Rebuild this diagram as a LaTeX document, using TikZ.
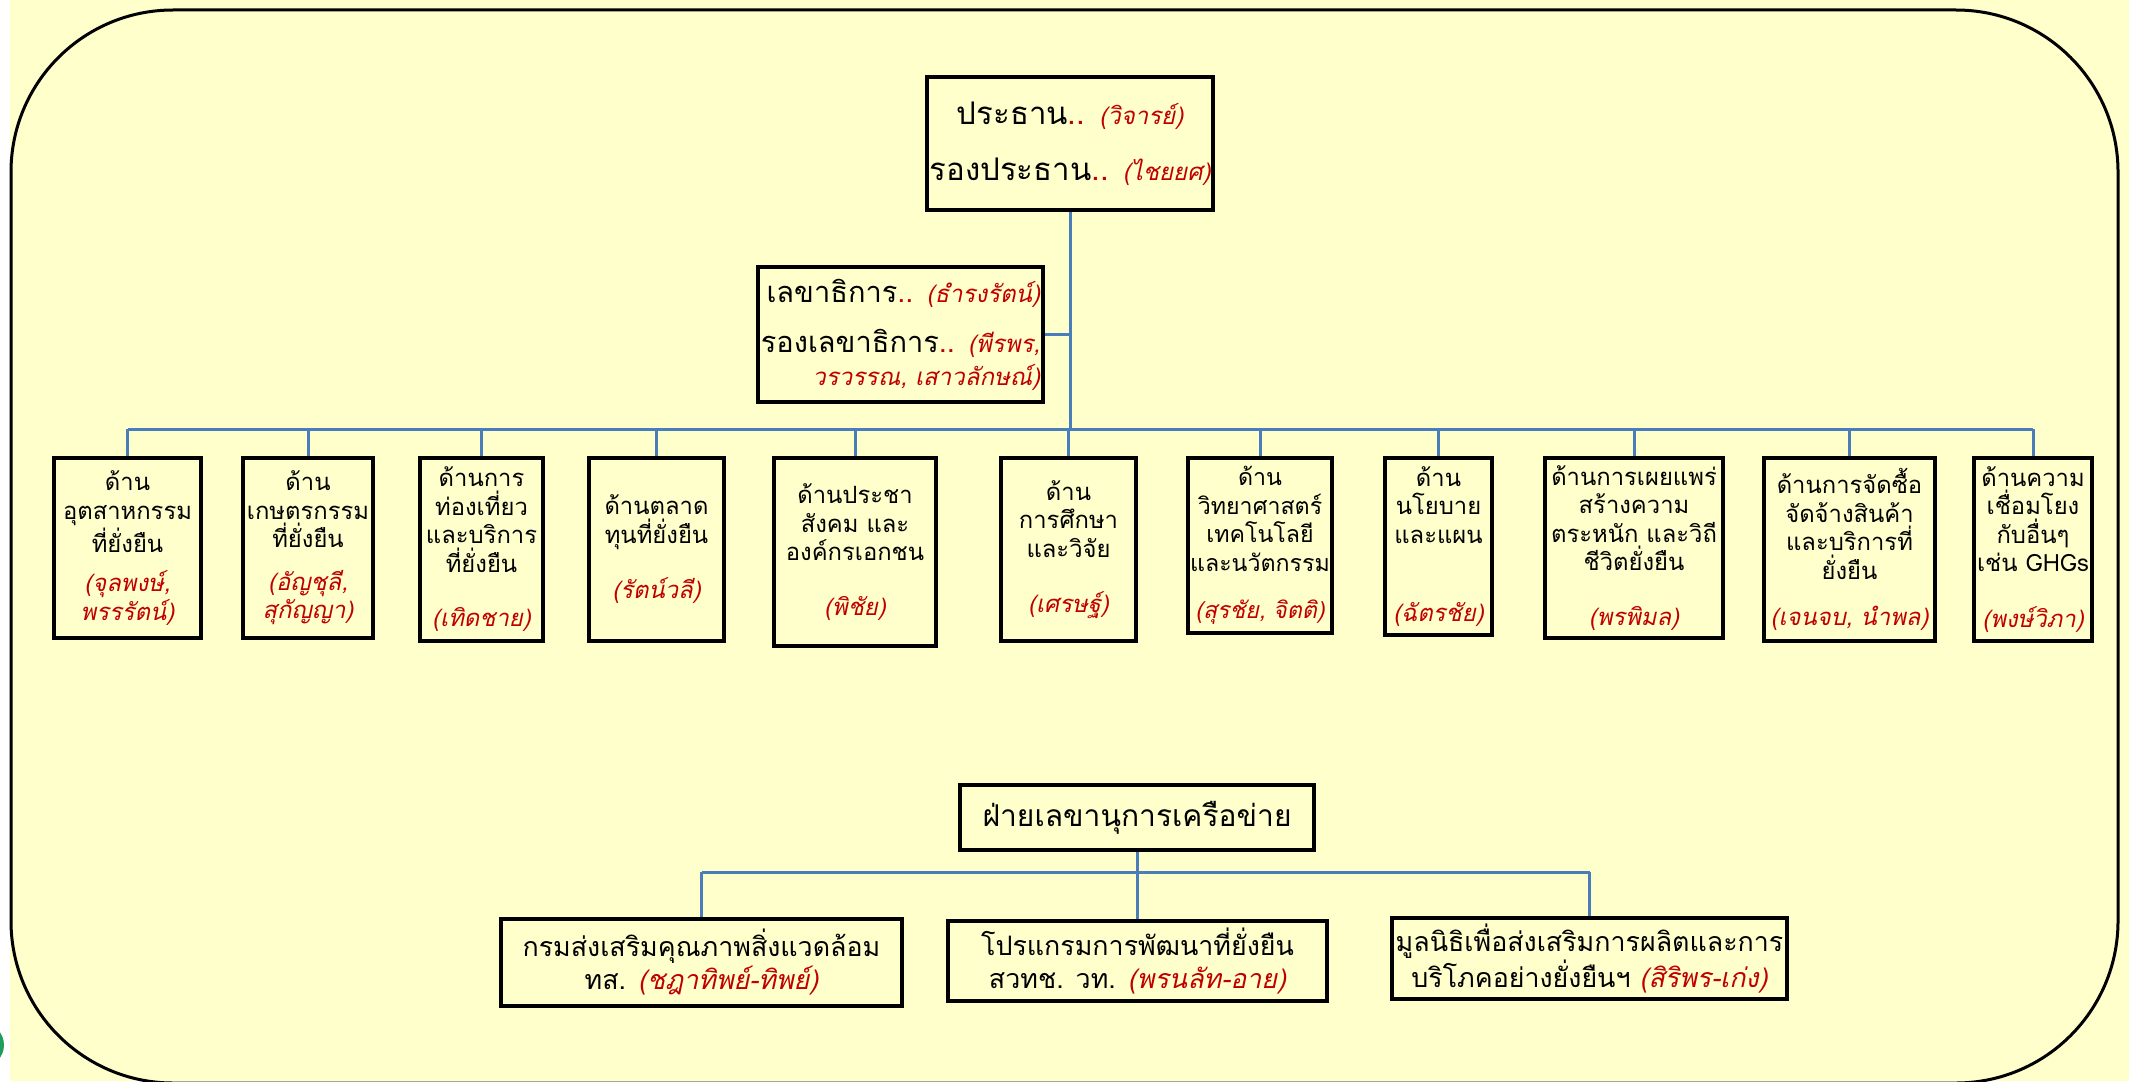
\documentclass[tikz,border=0pt]{standalone}
\usepackage{fontspec}
\setmainfont[Script=Thai]{Loma}
\definecolor{bgy}{HTML}{FFFFCC}
\definecolor{lnb}{HTML}{4A7EBB}
\definecolor{nred}{HTML}{C00000}
\definecolor{gblob}{HTML}{1B9E5E}
\newcommand\redit[1]{{\color{nred}\itshape #1}}
\begin{document}
\begin{tikzpicture}[x=0.5pt,y=-0.5pt,
  box/.style={draw=black, line width=2pt, fill=bgy, align=center, inner sep=1pt},
  rb/.style 2 args={box, minimum width=#1, minimum height=#2},
  conn/.style={draw=lnb, line width=1.5pt},
  rowtxt/.style={font=\fontsize{11.9}{14.25}\selectfont},
  bottxt/.style={font=\fontsize{13.4}{16.5}\selectfont}]
\useasboundingbox (0,0) rectangle (2129,1081);
\fill[white] (0,0) rectangle (2129,1081);
\fill[bgy] (10,0) rectangle (2129,1081);
\fill[gblob] (-18,1045) circle[radius=22];
\draw[line width=1.5pt, rounded corners=81pt] (11,10) rectangle (2118,1083);

% top
\node[rb={143pt}{66.5pt}, font=\fontsize{15.6}{28}\selectfont] (top) at (1070,143.5)
  {ประธาน{\color{nred}..} {\fontsize{12}{28}\selectfont\redit{(วิจารย์)}}\\
   รองประธาน{\color{nred}..} {\fontsize{12}{28}\selectfont\redit{(ไชยยศ)}}};
\node[rb={142.5pt}{67.5pt}, align=right, font=\fontsize{14.5}{25}\selectfont] (sec) at (900.5,334.5)
  {เลขาธิการ{\color{nred}..} {\fontsize{12}{25}\selectfont\redit{(ธำรงรัตน์)}}\\
   รองเลขาธิการ{\color{nred}..} {\fontsize{12}{25}\selectfont\redit{(พีรพร,}}\\[-8.5pt]
   {\fontsize{12}{25}\selectfont\redit{วรวรรณ, เสาวลักษณ์)}}};

% row
\node[rb={73.5pt}{90pt}, rowtxt] (r1) at (127.5,548)
  {ด้าน\\อุตสาหกรรม\\ที่ยั่งยืน\\[5.5pt]\redit{(จุลพงษ์,}\\\redit{พรรรัตน์)}};
\node[rb={65pt}{90pt}, rowtxt] (r2) at (308,548)
  {ด้าน\\เกษตรกรรม\\ที่ยั่งยืน\\[7pt]\redit{(อัญชุลี,}\\\redit{สุกัญญา)}};
\node[rb={61.5pt}{91.5pt}, rowtxt] (r3) at (481.5,549.5)
  {ด้านการ\\ท่องเที่ยว\\และบริการ\\ที่ยั่งยืน\\[13pt]\redit{(เทิดชาย)}};
\node[rb={67.5pt}{91.5pt}, rowtxt] (r4) at (656.5,549.5)
  {ด้านตลาด\\ทุนที่ยั่งยืน\\[13.5pt]\redit{(รัตน์วลี)}};
\node[rb={81pt}{94pt}, rowtxt] (r5) at (855,552)
  {ด้านประชา\\สังคม และ\\องค์กรเอกชน\\[13pt]\redit{(พิชัย)}};
\node[rb={67.5pt}{91.5pt}, rowtxt] (r6) at (1068.5,549.5)
  {ด้าน\\การศึกษา\\และวิจัย\\[13.5pt]\redit{(เศรษฐ์)}};
\node[rb={72pt}{87.5pt}, rowtxt, font=\fontsize{11.6}{14.25}\selectfont] (r7) at (1260,545.5)
  {ด้าน\\วิทยาศาสตร์\\เทคโนโลยี\\และนวัตกรรม\\[9.5pt]\redit{(สุรชัย, จิตติ)}};
\node[rb={53.5pt}{88.5pt}, rowtxt] (r8) at (1438.5,546.5)
  {ด้าน\\นโยบาย\\และแผน\\[25pt]\redit{(ฉัตรชัย)}};
\node[rb={89pt}{90pt}, rowtxt] (r9) at (1634,548)
  {ด้านการเผยแพร่\\สร้างความ\\ตระหนัก และวิถี\\ชีวิตยั่งยืน\\[13pt]\redit{(พรพิมล)}};
\node[rb={85.5pt}{91.5pt}, rowtxt] (r10) at (1849.5,549.5)
  {ด้านการจัดซื้อ\\จัดจ้างสินค้า\\และบริการที่\\ยั่งยืน\\[9pt]\redit{(เจนจบ, นำพล)}};
\node[rb={59pt}{91.5pt}, rowtxt] (r11) at (2033,549.5)
  {ด้านความ\\เชื่อมโยง\\กับอื่นๆ\\เช่น GHGs\\[13.5pt]\redit{(พงษ์วิภา)}};

% bottom
\node[rb={177pt}{32.5pt}, font=\fontsize{15}{18}\selectfont] (net) at (1137,817.5) {ฝ่ายเลขานุการเครือข่าย};
\node[rb={200.5pt}{43.5pt}, bottxt] (ba) at (701.5,962.5)
  {กรมส่งเสริมคุณภาพสิ่งแวดล้อม\\ทส. \redit{(ชฎาทิพย์-ทิพย์)}};
\node[rb={189.5pt}{40pt}, bottxt] (bb) at (1137.5,961)
  {โปรแกรมการพัฒนาที่ยั่งยืน\\สวทช. วท. \redit{(พรนลัท-อาย)}};
\node[rb={197.5pt}{40.5pt}, bottxt] (bc) at (1589.5,958.5)
  {มูลนิธิเพื่อส่งเสริมการผลิตและการ\\บริโภคอย่างยั่งยืนฯ \redit{(สิริพร-เก่ง)}};

% connectors
\coordinate (busc) at (1070,429);
\coordinate (nbus) at (1137,872);
\draw[conn] (top.south) -- (busc);
\draw[conn] (sec.east) -- (sec.east -| busc);
\draw[conn] (r1.north |- busc) -- (r11.north |- busc);
\foreach \n in {r1,r2,r3,r4,r5,r6,r7,r8,r9,r10,r11}
  \draw[conn] (\n.north) -- (\n.north |- busc);
\draw[conn] (net.south) -- (nbus);
\draw[conn] (ba.north |- nbus) -- (bc.north |- nbus);
\foreach \n in {ba,bb,bc}
  \draw[conn] (\n.north) -- (\n.north |- nbus);
\end{tikzpicture}
\end{document}
